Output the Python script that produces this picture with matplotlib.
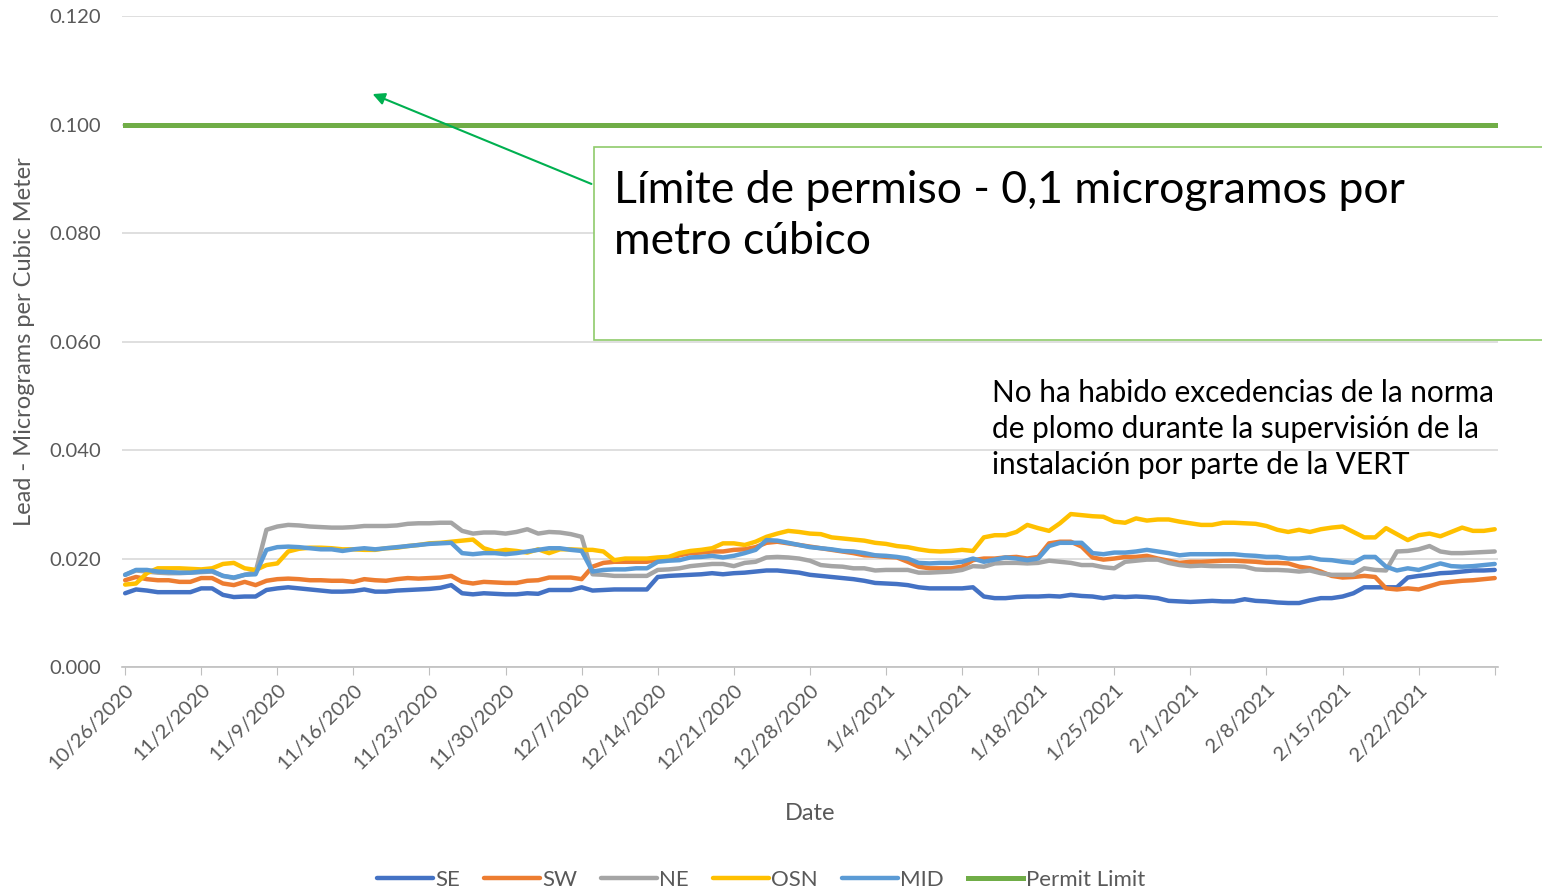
import numpy as np
import pandas as pd
import matplotlib
matplotlib.use("Agg")
import matplotlib.pyplot as plt
from matplotlib.patches import Rectangle

plt.rcParams['font.family'] = ['Lato', 'DejaVu Sans']

# daily readings, 10/26/2020 .. 3/1/2021
dates = pd.date_range("2020-10-26", "2021-03-01", freq="D")

se = [0.0136, 0.0143, 0.0141, 0.0138, 0.0138, 0.0138, 0.0138, 0.0145, 0.0145, 0.0133, 0.0129, 0.0130, 0.0130,
      0.0142, 0.0145, 0.0147, 0.0145, 0.0143, 0.0141, 0.0139, 0.0139, 0.0140, 0.0143,
      0.0139, 0.0139, 0.0141, 0.0142, 0.0143, 0.0144, 0.0146, 0.0151, 0.0136, 0.0134, 0.0136, 0.0135, 0.0134,
      0.0134, 0.0136, 0.0135, 0.0142, 0.0142, 0.0142, 0.0147, 0.0141, 0.0142,
      0.0143, 0.0143, 0.0143, 0.0143, 0.0166, 0.0168, 0.0169, 0.0170, 0.0171, 0.0173, 0.0171, 0.0173, 0.0174,
      0.0176, 0.0178, 0.0178, 0.0176, 0.0174, 0.0170, 0.0168, 0.0166, 0.0164,
      0.0162, 0.0159, 0.0155, 0.0154, 0.0153, 0.0151, 0.0147, 0.0145, 0.0145, 0.0145, 0.0145, 0.0147, 0.0130,
      0.0127, 0.0127, 0.0129, 0.0130, 0.0130, 0.0131, 0.0130, 0.0133, 0.0131,
      0.0130, 0.0127, 0.0130, 0.0129, 0.0130, 0.0129, 0.0127, 0.0122, 0.0121, 0.0120, 0.0121, 0.0122, 0.0121,
      0.0121, 0.0125, 0.0122, 0.0121, 0.0119, 0.0118, 0.0118, 0.0123, 0.0127,
      0.0127, 0.0130, 0.0136, 0.0147, 0.0147, 0.0147, 0.0147, 0.0165, 0.0168, 0.0170, 0.0173, 0.0174, 0.0176,
      0.0178, 0.0178, 0.0179]

sw = [0.0160, 0.0166, 0.0162, 0.0160, 0.0160, 0.0157, 0.0157, 0.0164, 0.0164, 0.0154, 0.0151, 0.0157, 0.0151,
      0.0159, 0.0162, 0.0163, 0.0162, 0.0160, 0.0160, 0.0159, 0.0159, 0.0157, 0.0162,
      0.0160, 0.0159, 0.0162, 0.0164, 0.0163, 0.0164, 0.0165, 0.0168, 0.0157, 0.0154, 0.0157, 0.0156, 0.0155,
      0.0155, 0.0159, 0.0160, 0.0165, 0.0165, 0.0165, 0.0162, 0.0185, 0.0192,
      0.0194, 0.0194, 0.0194, 0.0194, 0.0198, 0.0200, 0.0206, 0.0210, 0.0211, 0.0213, 0.0213, 0.0216, 0.0217,
      0.0221, 0.0229, 0.0231, 0.0228, 0.0225, 0.0222, 0.0219, 0.0216, 0.0213,
      0.0210, 0.0206, 0.0205, 0.0203, 0.0202, 0.0194, 0.0185, 0.0182, 0.0182, 0.0182, 0.0185, 0.0197, 0.0200,
      0.0200, 0.0202, 0.0203, 0.0200, 0.0203, 0.0228, 0.0231, 0.0231, 0.0222,
      0.0202, 0.0198, 0.0200, 0.0203, 0.0203, 0.0205, 0.0200, 0.0196, 0.0192, 0.0194, 0.0194, 0.0195, 0.0196,
      0.0196, 0.0195, 0.0194, 0.0192, 0.0192, 0.0191, 0.0185, 0.0182, 0.0176,
      0.0168, 0.0165, 0.0166, 0.0168, 0.0166, 0.0145, 0.0143, 0.0145, 0.0143, 0.0149, 0.0155, 0.0157, 0.0159,
      0.0160, 0.0162, 0.0164]

ne = [0.0170, 0.0178, 0.0176, 0.0174, 0.0173, 0.0173, 0.0174, 0.0175, 0.0176, 0.0168, 0.0164, 0.0170, 0.0175,
      0.0253, 0.0259, 0.0262, 0.0261, 0.0259, 0.0258, 0.0257, 0.0257, 0.0258, 0.0260,
      0.0260, 0.0260, 0.0261, 0.0264, 0.0265, 0.0265, 0.0266, 0.0266, 0.0251, 0.0246, 0.0248, 0.0248, 0.0246,
      0.0249, 0.0254, 0.0246, 0.0249, 0.0248, 0.0245, 0.0240, 0.0171, 0.0170,
      0.0168, 0.0168, 0.0168, 0.0168, 0.0179, 0.0180, 0.0182, 0.0186, 0.0188, 0.0190, 0.0190, 0.0186, 0.0192,
      0.0194, 0.0202, 0.0203, 0.0202, 0.0200, 0.0196, 0.0188, 0.0186, 0.0185,
      0.0182, 0.0182, 0.0178, 0.0179, 0.0179, 0.0179, 0.0174, 0.0174, 0.0175, 0.0176, 0.0179, 0.0186, 0.0185,
      0.0191, 0.0192, 0.0192, 0.0191, 0.0192, 0.0196, 0.0194, 0.0192, 0.0188,
      0.0188, 0.0184, 0.0182, 0.0194, 0.0196, 0.0198, 0.0198, 0.0192, 0.0188, 0.0186, 0.0187, 0.0186, 0.0186,
      0.0186, 0.0185, 0.0180, 0.0179, 0.0179, 0.0178, 0.0176, 0.0178, 0.0173,
      0.0170, 0.0170, 0.0170, 0.0182, 0.0179, 0.0178, 0.0213, 0.0214, 0.0217, 0.0223, 0.0213, 0.0210, 0.0210,
      0.0211, 0.0212, 0.0213]

osn = [0.0152, 0.0154, 0.0173, 0.0182, 0.0182, 0.0182, 0.0181, 0.0180, 0.0182, 0.0190, 0.0192, 0.0182, 0.0179,
       0.0188, 0.0191, 0.0213, 0.0218, 0.0220, 0.0220, 0.0219, 0.0217, 0.0217, 0.0216,
       0.0216, 0.0219, 0.0220, 0.0223, 0.0225, 0.0228, 0.0229, 0.0231, 0.0233, 0.0235, 0.0219, 0.0213, 0.0216,
       0.0214, 0.0211, 0.0217, 0.0210, 0.0217, 0.0217, 0.0216, 0.0216, 0.0213,
       0.0197, 0.0200, 0.0200, 0.0200, 0.0202, 0.0203, 0.0210, 0.0214, 0.0216, 0.0219, 0.0228, 0.0228, 0.0225,
       0.0231, 0.0240, 0.0246, 0.0251, 0.0249, 0.0246, 0.0245, 0.0239, 0.0237,
       0.0235, 0.0233, 0.0229, 0.0227, 0.0223, 0.0221, 0.0217, 0.0214, 0.0213, 0.0214, 0.0216, 0.0214, 0.0239,
       0.0243, 0.0243, 0.0249, 0.0262, 0.0256, 0.0251, 0.0265, 0.0282, 0.0280,
       0.0278, 0.0277, 0.0268, 0.0266, 0.0274, 0.0270, 0.0272, 0.0272, 0.0268, 0.0265, 0.0262, 0.0262, 0.0266,
       0.0266, 0.0265, 0.0264, 0.0260, 0.0253, 0.0249, 0.0253, 0.0249, 0.0254,
       0.0257, 0.0259, 0.0249, 0.0239, 0.0239, 0.0256, 0.0245, 0.0234, 0.0243, 0.0246, 0.0241, 0.0249, 0.0257,
       0.0251, 0.0251, 0.0254]

mid = [0.0170, 0.0179, 0.0179, 0.0176, 0.0175, 0.0174, 0.0174, 0.0176, 0.0177, 0.0168, 0.0165, 0.0170, 0.0171,
       0.0216, 0.0221, 0.0222, 0.0221, 0.0219, 0.0217, 0.0217, 0.0214, 0.0217, 0.0219,
       0.0217, 0.0219, 0.0221, 0.0223, 0.0225, 0.0227, 0.0228, 0.0229, 0.0210, 0.0208, 0.0210, 0.0210, 0.0208,
       0.0210, 0.0213, 0.0216, 0.0219, 0.0219, 0.0216, 0.0214, 0.0176, 0.0179,
       0.0180, 0.0180, 0.0182, 0.0182, 0.0194, 0.0196, 0.0197, 0.0202, 0.0203, 0.0205, 0.0202, 0.0205, 0.0210,
       0.0216, 0.0234, 0.0233, 0.0229, 0.0225, 0.0221, 0.0219, 0.0217, 0.0214,
       0.0213, 0.0210, 0.0206, 0.0205, 0.0203, 0.0200, 0.0192, 0.0191, 0.0192, 0.0192, 0.0194, 0.0200, 0.0194,
       0.0198, 0.0202, 0.0200, 0.0197, 0.0200, 0.0223, 0.0229, 0.0229, 0.0229,
       0.0210, 0.0208, 0.0211, 0.0211, 0.0213, 0.0216, 0.0213, 0.0210, 0.0206, 0.0208, 0.0208, 0.0208, 0.0208,
       0.0208, 0.0206, 0.0205, 0.0203, 0.0203, 0.0200, 0.0200, 0.0202, 0.0198,
       0.0197, 0.0194, 0.0192, 0.0203, 0.0203, 0.0185, 0.0178, 0.0182, 0.0179, 0.0185, 0.0191, 0.0186, 0.0185,
       0.0186, 0.0188, 0.0190]

permit_limit = 0.1

series = [("SE", se, "#4472C4"), ("SW", sw, "#ED7D31"), ("NE", ne, "#A5A5A5"),
          ("OSN", osn, "#FFC000"), ("MID", mid, "#5B9BD5")]

tick_dates = pd.date_range("2020-10-26", "2021-03-01", freq="7D")
tick_labels = [f"{d.month}/{d.day}/{d.year}" for d in tick_dates]
tick_labels[-1] = ""  # axis end, not labelled

fig = plt.figure(figsize=(15.42, 8.92), dpi=100)
ax = fig.add_axes([0.0791, 0.2522, 0.8923, 0.7298])

for name, vals, col in series:
    ax.plot(dates, vals, color=col, lw=3.2, label=name, solid_capstyle="round")
ax.plot(dates, [permit_limit] * len(dates), color="#70AD47", lw=3.6, label="Permit Limit")

ax.set_ylim(0, 0.12)
ax.set_yticks(np.arange(0, 0.121, 0.02))
ax.set_yticklabels([f"{v:.3f}" for v in np.arange(0, 0.121, 0.02)])
ax.set_xlim(dates[0] - pd.Timedelta(hours=7), dates[-1] + pd.Timedelta(hours=7))
ax.set_xticks(tick_dates)
ax.set_xticklabels(tick_labels, rotation=45, ha="right", rotation_mode="anchor")

ax.grid(axis="y", color="#D9D9D9", lw=1.2)
ax.set_axisbelow(True)
for s in ["top", "right", "left"]:
    ax.spines[s].set_visible(False)
ax.spines["bottom"].set_color("#BFBFBF")
ax.spines["bottom"].set_linewidth(1.2)
ax.tick_params(axis="y", length=0, labelsize=14.5, labelcolor="#595959", pad=15)
ax.tick_params(axis="x", length=6, color="#BFBFBF", labelsize=14.5, labelcolor="#595959", pad=4)

ax.set_ylabel("Lead - Micrograms per Cubic Meter", fontsize=17, color="#595959", labelpad=10)
ax.set_xlabel("Date", fontsize=17, color="#595959", labelpad=22)

# callout box and arrow
box = Rectangle((594 / 1542, 1 - 340 / 892), 1, (340 - 147) / 892, transform=fig.transFigure,
                facecolor="white", edgecolor="#8FCB6B", lw=1.2, zorder=5, clip_on=False)
fig.patches.append(box)
fig.text(614 / 1542, 1 - 216 / 892, "Límite de permiso - 0,1 microgramos por\nmetro cúbico",
         fontsize=32, va="center", ha="left", linespacing=1.32, color="#000000", zorder=6)
ax.annotate("", xy=(370 / 1542, 1 - 93 / 892), xycoords="figure fraction",
            xytext=(594 / 1542, 1 - 185 / 892), textcoords="figure fraction",
            arrowprops=dict(arrowstyle="-|>", color="#00B050", lw=1.5, mutation_scale=18))

fig.text(992 / 1542, 1 - 429 / 892,
         "No ha habido excedencias de la norma\nde plomo durante la supervisión de la\ninstalación por parte de la VERT",
         fontsize=21.4, va="center", ha="left", linespacing=1.36, color="#000000")

leg = fig.legend(loc="center", bbox_to_anchor=(761 / 1542, 1 - 880 / 892), ncol=6, frameon=False,
                 fontsize=16, handlelength=2.5, columnspacing=1.1, handletextpad=0.1)
for t in leg.get_texts():
    t.set_color("#595959")

fig.savefig("out.png", dpi=100)
